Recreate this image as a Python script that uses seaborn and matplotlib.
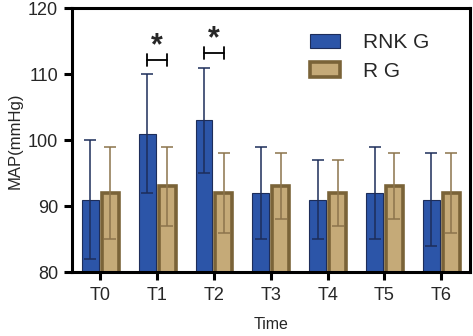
import seaborn as sns
import matplotlib.pyplot as plt
import pandas as pd
import numpy as np

# values
times = ['T0', 'T1', 'T2', 'T3', 'T4', 'T5', 'T6']
rnk_mean = [91, 101, 103, 92, 91, 92, 91]
rnk_sd = [9, 9, 8, 7, 6, 7, 7]
rg_mean = [92, 93, 92, 93, 92, 93, 92]
rg_sd = [7, 6, 6, 5, 5, 5, 6]
groups = ['RNK G', 'R G']

# significance marks (time index, bracket y, star y)
sig_idx = [1, 2]
sig_y = [112.2, 113.2]
star_y = [114.3, 115.3]

blue = '#2c55a8'
blue_edge = '#1d2d5a'
tan = '#c5aa78'
tan_edge = '#7a6338'

df = pd.DataFrame({
    'Time': times * 2,
    'MAP': rnk_mean + rg_mean,
    'SD': rnk_sd + rg_sd,
    'Group': [groups[0]] * len(times) + [groups[1]] * len(times),
})

sns.set_style('ticks')
plt.rcParams['font.family'] = ['Liberation Sans', 'DejaVu Sans']

fig, ax = plt.subplots(figsize=(4.73, 3.36), dpi=100)

sns.barplot(data=df, x='Time', y='MAP', hue='Group', hue_order=groups,
            palette=[blue, tan], errorbar=None, width=0.7, gap=0.15,
            saturation=1, ax=ax)

# edges + error bars from the patches seaborn placed
n = len(times)
bars = [p for p in ax.patches if p.get_height() > 0][:2 * n]
for k, p in enumerate(bars):
    g = k // n
    i = k % n
    cx = p.get_x() + p.get_width() / 2
    if g == 0:
        p.set_edgecolor(blue_edge)
        p.set_linewidth(0.8)
        ax.errorbar(cx, rnk_mean[i], yerr=rnk_sd[i], color=blue_edge,
                    capsize=4, elinewidth=1.1, capthick=1.1, zorder=1)
    else:
        p.set_edgecolor(tan_edge)
        p.set_linewidth(2.6)
        ax.errorbar(cx, rg_mean[i], yerr=rg_sd[i], color='#8c744c',
                    capsize=4, elinewidth=1.1, capthick=1.1, zorder=1)
    p.set_zorder(0.5)

for i, by, sy in zip(sig_idx, sig_y, star_y):
    b1 = bars[i]
    b2 = bars[n + i]
    x1 = b1.get_x() + b1.get_width() / 2
    x2 = b2.get_x() + b2.get_width() / 2
    ax.plot([x1, x2], [by, by], color='black', lw=1.3)
    ax.plot([x1, x1], [by - 0.9, by + 0.9], color='black', lw=1.3)
    ax.plot([x2, x2], [by - 0.9, by + 0.9], color='black', lw=1.3)
    ax.text((x1 + x2) / 2, sy, '*', ha='center', va='center',
            fontsize=22, fontweight='bold')

ax.set_ylim(80, 120)
ax.set_yticks([80, 90, 100, 110, 120])
ax.set_xlim(-0.5, 6.5)
ax.set_ylabel('MAP(mmHg)', fontsize=12, labelpad=4)
ax.set_xlabel('Time', fontsize=11.5, labelpad=9)
ax.tick_params(axis='both', labelsize=13, width=2.2, length=6, color='black', pad=4)
ax.tick_params(axis='x', pad=5)
for s in ax.spines.values():
    s.set_linewidth(2.2)
    s.set_color('black')

handles, labels = ax.get_legend_handles_labels()
handles[0].set_edgecolor(blue_edge)
handles[0].set_linewidth(0.8)
handles[1].set_edgecolor(tan_edge)
handles[1].set_linewidth(2.6)
ax.legend(handles, labels, loc='upper right', frameon=False, fontsize=15,
          handlelength=1.4, handleheight=0.7, handletextpad=1.1,
          labelspacing=0.45, borderaxespad=0.8,
          bbox_to_anchor=(0.96, 1.0))

plt.subplots_adjust(left=0.152, right=0.993, top=0.975, bottom=0.19)
plt.savefig('out.png', dpi=100)
